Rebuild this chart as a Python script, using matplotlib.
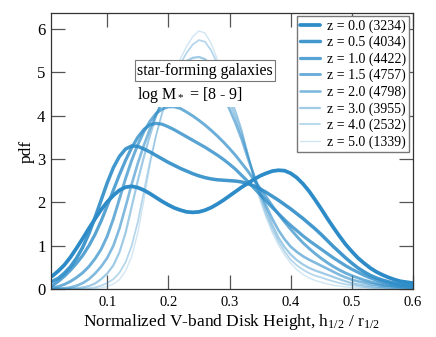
import numpy as np
import matplotlib
matplotlib.use("Agg")
import matplotlib.pyplot as plt
from matplotlib.patches import Rectangle

plt.rcParams['font.family'] = ['Liberation Serif', 'DejaVu Serif']
plt.rcParams['mathtext.fontset'] = 'custom'
plt.rcParams['mathtext.rm'] = 'Liberation Serif'
plt.rcParams['mathtext.it'] = 'Liberation Serif:italic'

# normalized disk height grid (0.01 ... 0.60)
height = np.linspace(0.01, 0.60, 60)

redshifts = ['0.0', '0.5', '1.0', '1.5', '2.0', '3.0', '4.0', '5.0']
counts = [3234, 4034, 4422, 4757, 4798, 3955, 2532, 1339]

pdf_z00 = [0.30, 0.42, 0.56, 0.74, 0.95, 1.17, 1.40, 1.62, 1.83, 2.01,
           2.16, 2.28, 2.35, 2.37, 2.34, 2.28, 2.20, 2.11, 2.02, 1.94,
           1.87, 1.82, 1.78, 1.77, 1.78, 1.82, 1.88, 1.96, 2.05, 2.15,
           2.25, 2.35, 2.44, 2.53, 2.61, 2.67, 2.72, 2.74, 2.73, 2.67,
           2.57, 2.43, 2.26, 2.06, 1.85, 1.63, 1.42, 1.22, 1.03, 0.87,
           0.72, 0.60, 0.49, 0.40, 0.33, 0.27, 0.22, 0.18, 0.16, 0.14]
pdf_z05 = [0.18, 0.25, 0.37, 0.52, 0.72, 0.97, 1.28, 1.65, 2.05, 2.45,
           2.80, 3.06, 3.23, 3.30, 3.29, 3.23, 3.16, 3.08, 3.00, 2.92,
           2.85, 2.78, 2.72, 2.66, 2.61, 2.57, 2.54, 2.52, 2.51, 2.50,
           2.49, 2.47, 2.43, 2.38, 2.31, 2.23, 2.14, 2.05, 1.95, 1.85,
           1.74, 1.63, 1.51, 1.39, 1.26, 1.12, 0.98, 0.85, 0.72, 0.60,
           0.49, 0.40, 0.32, 0.26, 0.21, 0.17, 0.14, 0.12, 0.10, 0.09]
pdf_z10 = [0.08, 0.18, 0.30, 0.44, 0.60, 0.78, 1.00, 1.26, 1.57, 1.92,
           2.28, 2.64, 2.97, 3.26, 3.50, 3.68, 3.79, 3.82, 3.80, 3.74,
           3.67, 3.59, 3.51, 3.43, 3.35, 3.27, 3.18, 3.09, 2.99, 2.88,
           2.76, 2.62, 2.48, 2.33, 2.18, 2.03, 1.88, 1.74, 1.60, 1.47,
           1.35, 1.23, 1.12, 1.02, 0.92, 0.82, 0.72, 0.63, 0.54, 0.46,
           0.39, 0.32, 0.26, 0.21, 0.17, 0.14, 0.11, 0.09, 0.08, 0.07]
pdf_z15 = [0.03, 0.06, 0.11, 0.18, 0.27, 0.38, 0.52, 0.70, 0.92, 1.22,
           1.62, 2.08, 2.55, 2.97, 3.33, 3.63, 3.87, 4.05, 4.15, 4.20,
           4.20, 4.16, 4.08, 3.99, 3.89, 3.78, 3.66, 3.53, 3.39, 3.24,
           3.08, 2.90, 2.72, 2.52, 2.32, 2.12, 1.92, 1.73, 1.55, 1.38,
           1.22, 1.07, 0.94, 0.82, 0.71, 0.61, 0.52, 0.44, 0.37, 0.31,
           0.26, 0.21, 0.17, 0.14, 0.11, 0.09, 0.07, 0.06, 0.05, 0.04]
pdf_z20 = [0.01, 0.01, 0.02, 0.04, 0.08, 0.14, 0.23, 0.36, 0.52, 0.72,
           1.00, 1.40, 1.90, 2.42, 2.90, 3.32, 3.70, 4.02, 4.30, 4.53,
           4.72, 4.88, 4.98, 5.04, 5.05, 5.00, 4.88, 4.70, 4.45, 4.15,
           3.82, 3.45, 3.02, 2.62, 2.25, 1.92, 1.62, 1.36, 1.15, 0.98,
           0.86, 0.76, 0.68, 0.61, 0.54, 0.47, 0.40, 0.33, 0.27, 0.22,
           0.18, 0.15, 0.12, 0.10, 0.08, 0.07, 0.06, 0.05, 0.04, 0.03]
pdf_z30 = [0.00, 0.01, 0.01, 0.01, 0.02, 0.04, 0.07, 0.13, 0.23, 0.36,
           0.55, 0.85, 1.30, 1.90, 2.50, 3.05, 3.55, 4.00, 4.38, 4.70,
           4.95, 5.13, 5.26, 5.33, 5.35, 5.30, 5.16, 4.94, 4.65, 4.32,
           3.96, 3.56, 3.08, 2.62, 2.20, 1.82, 1.48, 1.19, 0.97, 0.80,
           0.67, 0.57, 0.49, 0.43, 0.38, 0.33, 0.28, 0.23, 0.18, 0.14,
           0.11, 0.09, 0.07, 0.06, 0.05, 0.04, 0.03, 0.03, 0.02, 0.02]
pdf_z40 = [0.00, 0.00, 0.00, 0.01, 0.01, 0.01, 0.02, 0.04, 0.08, 0.14,
           0.23, 0.38, 0.62, 1.00, 1.55, 2.25, 2.95, 3.55, 4.05, 4.50,
           4.88, 5.20, 5.45, 5.64, 5.74, 5.70, 5.50, 5.20, 4.83, 4.45,
           4.08, 3.65, 3.12, 2.58, 2.12, 1.72, 1.38, 1.10, 0.87, 0.68,
           0.55, 0.45, 0.37, 0.31, 0.27, 0.22, 0.18, 0.14, 0.11, 0.09,
           0.07, 0.05, 0.04, 0.03, 0.03, 0.02, 0.02, 0.01, 0.01, 0.01]
pdf_z50 = [0.00, 0.00, 0.00, 0.00, 0.00, 0.00, 0.00, 0.01, 0.03, 0.06,
           0.12, 0.22, 0.42, 0.75, 1.30, 2.05, 2.85, 3.55, 4.12, 4.60,
           5.00, 5.32, 5.60, 5.82, 5.95, 5.90, 5.66, 5.30, 4.90, 4.50,
           4.12, 3.68, 3.10, 2.52, 2.04, 1.64, 1.30, 1.02, 0.79, 0.60,
           0.45, 0.34, 0.26, 0.20, 0.16, 0.12, 0.09, 0.07, 0.05, 0.04,
           0.03, 0.03, 0.02, 0.02, 0.02, 0.01, 0.01, 0.01, 0.01, 0.01]

curves = [pdf_z00, pdf_z05, pdf_z10, pdf_z15, pdf_z20, pdf_z30, pdf_z40, pdf_z50]
widths = [2.7, 2.5, 2.3, 2.1, 1.9, 1.6, 1.3, 1.0]
alphas = [1.0, 0.9, 0.8, 0.7, 0.6, 0.45, 0.35, 0.22]
blue = '#2d8cc8'

fig = plt.figure(figsize=(4.36, 3.37), dpi=100)
ax = fig.add_axes([0.117, 0.142, 0.830, 0.819])

for z, n, y, lw, a in zip(redshifts, counts, curves, widths, alphas):
    ax.plot(height, y, color=blue, lw=lw, alpha=a, solid_capstyle='round',
            label='z = %s (%d)' % (z, n))

ax.set_xlim(0.008, 0.6)
ax.set_ylim(0, 6.36)
ax.set_xticks([0.1, 0.2, 0.3, 0.4, 0.5, 0.6])
ax.set_xticklabels(['0.1', '0.2', '0.3', '0.4', '0.5', '0.6'])
ax.set_yticks([0, 1, 2, 3, 4, 5, 6])
ax.tick_params(direction='in', length=10, width=0.9, color='#555555',
               top=True, right=True)
ax.tick_params(axis='x', labelsize=10.5, pad=5)
ax.tick_params(axis='y', labelsize=12, pad=4)
for s in ax.spines.values():
    s.set_color('#333333')
    s.set_linewidth(0.9)

ax.set_xlabel('Normalized V-band Disk Height, h$_{1/2}$ / r$_{1/2}$',
              fontsize=12.5, labelpad=2)
ax.set_ylabel('pdf', fontsize=12.5, labelpad=2)

# white backdrop behind the annotation (hides the curve peaks like the original)
ax.add_patch(Rectangle((0.226, 0.659), 0.31, 0.17, transform=ax.transAxes,
                       fc='white', ec='none', zorder=4))
ax.text(0.425, 0.792, 'star-forming galaxies', transform=ax.transAxes,
        ha='center', va='center', fontsize=11.5, zorder=5,
        bbox=dict(boxstyle='square,pad=0.15', fc='white', ec='#777777', lw=0.8))
ax.text(0.238, 0.705, 'log M$_*$ = [8 - 9]', transform=ax.transAxes,
        ha='left', va='center', fontsize=11.5, zorder=5)

leg = ax.legend(loc='upper right', bbox_to_anchor=(0.99, 0.99), borderaxespad=0,
                fontsize=10, handlelength=1.4, handletextpad=0.5,
                labelspacing=0.22, borderpad=0.25, fancybox=False,
                framealpha=1, edgecolor='#777777')
leg.get_frame().set_linewidth(1.0)
leg.set_zorder(6)

fig.savefig('out.png', dpi=100)
